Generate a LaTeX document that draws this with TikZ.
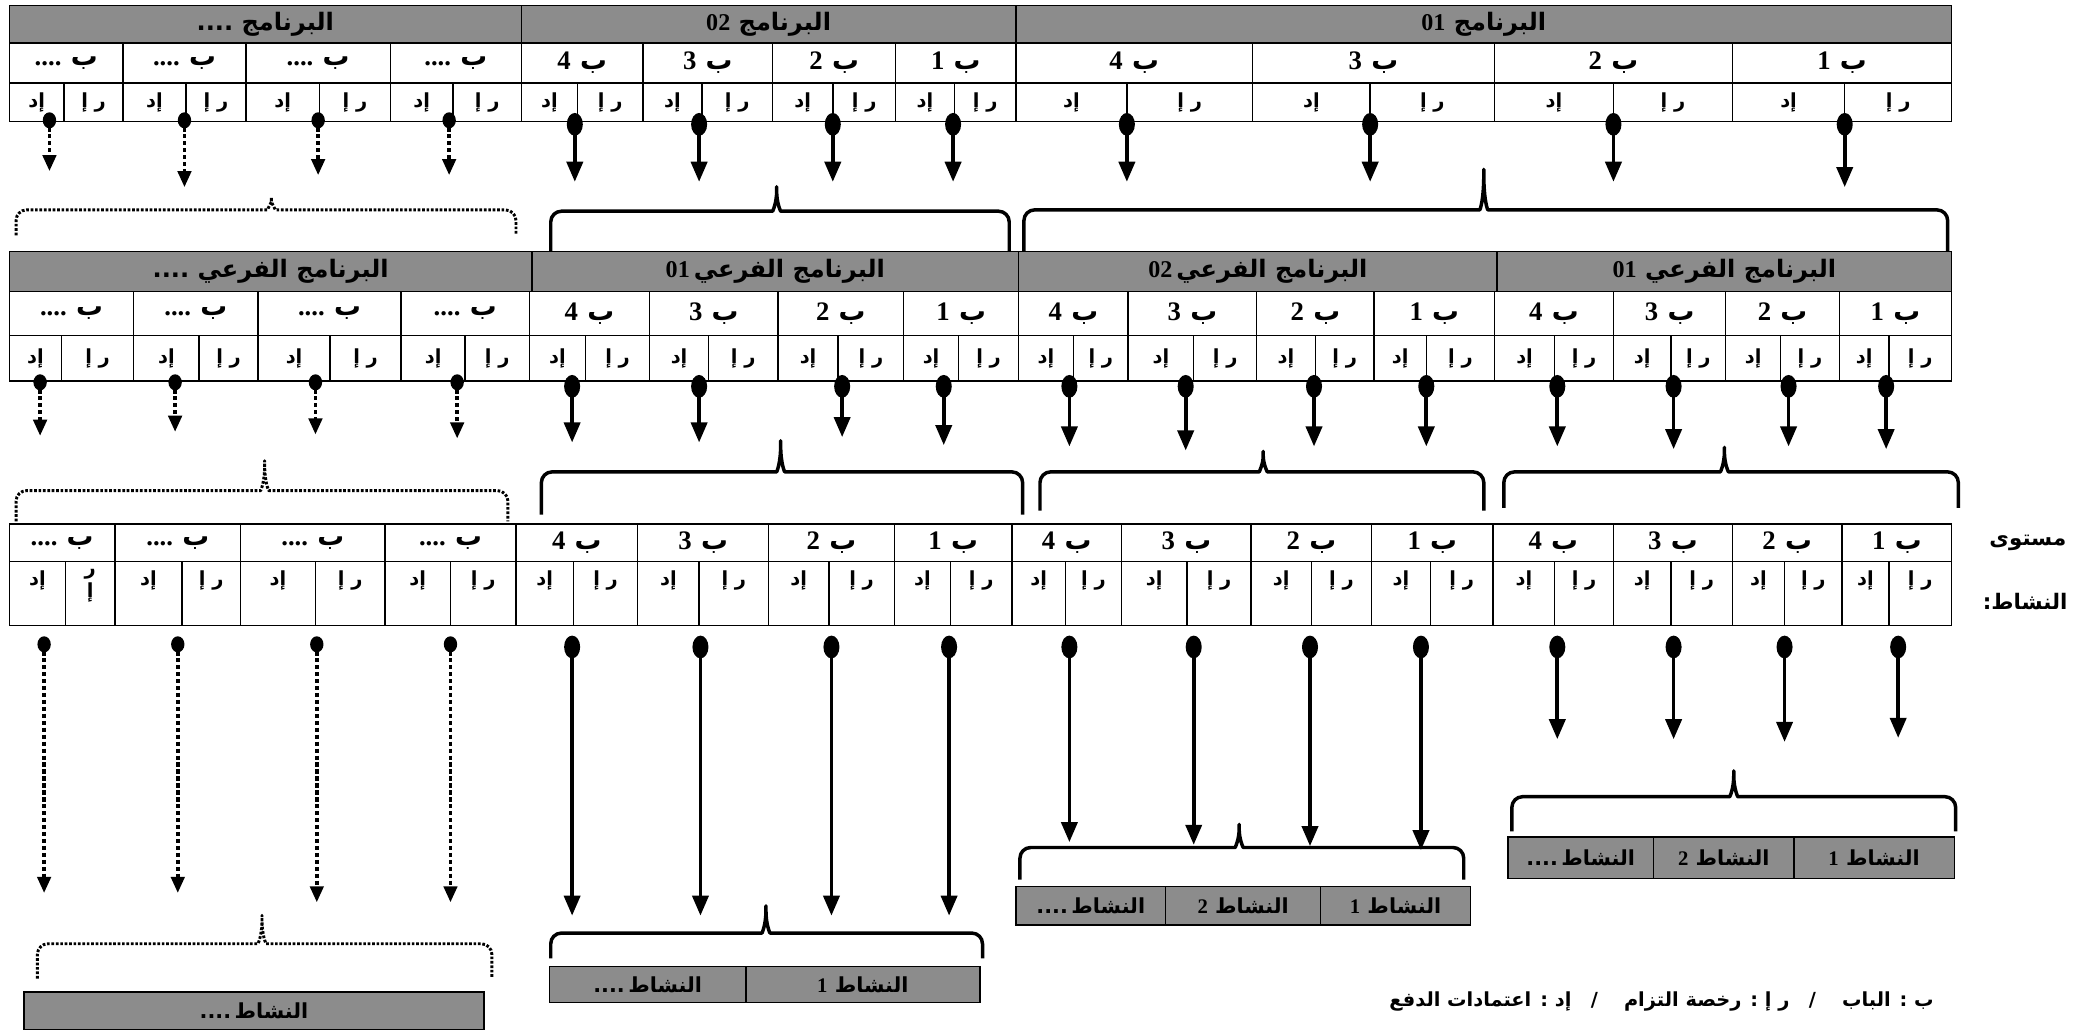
\documentclass[tikz,border=0pt]{standalone}
\usepackage{fontspec}
\newfontfamily\arfont[Script=Arabic]{DejaVu Sans}
\newfontfamily\latfont{Liberation Serif}
\TeXXeTstate=1
\usetikzlibrary{arrows.meta,shapes.geometric}
\newcommand\artxt[1]{{\arfont\bfseries\beginR #1\endR}}
\newcommand\dg[1]{{\latfont\bfseries #1}}
\newcommand\fdots{....}
\newcommand\brk[7][]{\draw[brc,#1] (#2,#5) -- (#2,#4) -- ({#6-11},#4) .. controls ({#6-3},#4) and (#6,{#4-6}) .. (#6,#7) .. controls (#6,{#4-6}) and ({#6+3},#4) .. ({#6+11},#4) -- (#3,#4) -- (#3,#5);}
\tikzset{
 tbl/.style={draw=black,line width=1.1pt,inner sep=0pt,outer sep=0pt,anchor=north west},
 hdr/.style={tbl,fill=black!45,font=\fontsize{18}{20}\selectfont},
 bc/.style={tbl,font=\fontsize{20}{22}\selectfont},
 sc/.style={tbl,font=\fontsize{14.5}{16}\selectfont},
 txt/.style={inner sep=0pt,font=\fontsize{14.5}{16}\selectfont},
 act/.style={tbl,fill=black!45,font=\fontsize{15.5}{17}\selectfont},
 sdot/.style={ellipse,fill=black,draw=none,inner sep=0pt,minimum width=12pt,minimum height=17pt},
 ddot/.style={ellipse,fill=black,draw=none,inner sep=0pt,minimum width=10pt,minimum height=12pt},
 sarr/.style={line width=2.8pt,-{Triangle[length=15pt,width=12pt]}},
 darr/.style={line width=2.6pt,dash pattern=on 3.2pt off 2pt,-{Triangle[length=12pt,width=10pt]}},
 brc/.style={line width=2.6pt,rounded corners=8pt,line join=round},
 dbrc/.style={line width=2.2pt,dash pattern=on 2pt off 1.3pt}
}
\begin{document}
\begin{tikzpicture}[x=1pt,y=-1pt]
\useasboundingbox (0,0) rectangle (1568,771);
\fill[white] (0,0) rectangle (1568,771);

% ---------- braces (drawn first, tables overlay) ----------
\brk[dbrc]{12}{386}{157}{176}{203}{143}
\brk{412}{755}{158}{189}{581}{135}
\brk{766}{1457}{157}{189}{1110}{122}
\brk[dbrc]{12}{380}{367}{390}{198}{340}
\brk{405}{765}{353}{385}{584}{325}
\brk{778}{1110}{353}{382}{945}{333}
\brk{1125}{1465}{353}{380}{1290}{330}
\brk{1131}{1463}{596}{622}{1297}{572}
\brk{763}{1095}{634}{658}{927}{612}
\brk{412}{735}{698}{717}{573}{673}
\brk[dbrc]{28}{368}{706}{732}{196}{680}

% ---------- Row 1 ----------
\node[hdr,minimum width=383pt,minimum height=28pt] (h1-1) at (7,4) {\artxt{البرنامج \fdots}};
\node[hdr,minimum width=370pt,minimum height=28pt] (h1-2) at (390,4) {\artxt{البرنامج \dg{02}}};
\node[hdr,minimum width=700pt,minimum height=28pt] (h1-3) at (760,4) {\artxt{البرنامج \dg{01}}};
\foreach \xa/\xb/\lab [count=\i] in {7/92/\fdots,92/184/\fdots,184/292/\fdots,292/390/\fdots,390/481/4,481/578/3,578/670/2,670/760/1,760/937/4,937/1118/3,1118/1296/2,1296/1460/1}
 \node[bc,minimum width={(\xb-\xa)*1pt},minimum height=30pt] (b1-\i) at (\xa,32) {\artxt{ب \dg{\lab}}};
\foreach \xa/\xm/\xb [count=\i] in {7/48/92,92/139/184,184/239/292,292/339/390,390/432/481,481/525/578,578/623/670,670/714/760,760/843/937,937/1025/1118,1118/1207/1296,1296/1380/1460}{
 \node[sc,minimum width={(\xm-\xa)*1pt},minimum height=29pt] (p1-\i) at (\xa,62) {\artxt{إد}};
 \node[sc,minimum width={(\xb-\xm)*1pt},minimum height=29pt] (r1-\i) at (\xm,62) {\artxt{ر إ}};
}
\foreach \x/\e [count=\i] in {430/136,523/136,623/136,713/136,843/136,1025/136,1207/136,1380/140}{
 \node[sdot] (s1-\i) at (\x,93) {};
 \coordinate (se1-\i) at (\x,\e);
 \draw[sarr] (s1-\i.center) -- (se1-\i);
}
\foreach \x/\e [count=\i] in {37/128,138/140,238/131,336/131}{
 \node[ddot] (q1-\i) at (\x,90) {};
 \coordinate (qe1-\i) at (\x,\e);
 \draw[darr] (q1-\i.center) -- (qe1-\i);
}

% ---------- Row 2 ----------
\node[hdr,minimum width=391pt,minimum height=30pt] (h2-1) at (7,188) {\artxt{البرنامج الفرعي \fdots}};
\node[hdr,minimum width=364pt,minimum height=30pt] (h2-2) at (398,188) {\artxt{البرنامج الفرعي\,\dg{01}}};
\node[hdr,minimum width=358pt,minimum height=30pt] (h2-3) at (762,188) {\artxt{البرنامج الفرعي\,\dg{02}}};
\node[hdr,minimum width=340pt,minimum height=30pt] (h2-4) at (1120,188) {\artxt{البرنامج الفرعي \dg{01}}};
\foreach \xa/\xb/\lab [count=\i] in {7/100/\fdots,100/193/\fdots,193/300/\fdots,300/396/\fdots,396/486/4,486/582/3,582/676/2,676/762/1,762/844/4,844/940/3,940/1028/2,1028/1118/1,1118/1207/4,1207/1291/3,1291/1376/2,1376/1460/1}
 \node[bc,minimum width={(\xb-\xa)*1pt},minimum height=33pt] (b2-\i) at (\xa,218) {\artxt{ب \dg{\lab}}};
\foreach \xa/\xm/\xb [count=\i] in {7/46/100,100/149/193,193/247/300,300/348/396,396/438/486,486/530/582,582/627/676,676/717/762,762/803/844,844/893/940,940/984/1028,1028/1067/1118,1118/1163/1207,1207/1250/1291,1291/1332/1376,1376/1413/1460}{
 \node[sc,minimum width={(\xm-\xa)*1pt},minimum height=34pt] (p2-\i) at (\xa,251) {\artxt{إد}};
 \node[sc,minimum width={(\xb-\xm)*1pt},minimum height=34pt] (r2-\i) at (\xm,251) {\artxt{ر إ}};
}
\foreach \x/\e [count=\i] in {428/331,523/331,630/327,706/333,800/334,887/337,983/334,1067/334,1165/334,1252/336,1338/334,1411/336}{
 \node[sdot] (s2-\i) at (\x,289) {};
 \coordinate (se2-\i) at (\x,\e);
 \draw[sarr] (s2-\i.center) -- (se2-\i);
}
\foreach \x/\e [count=\i] in {30/326,131/323,236/325,342/328}{
 \node[ddot] (q2-\i) at (\x,286) {};
 \coordinate (qe2-\i) at (\x,\e);
 \draw[darr] (q2-\i.center) -- (qe2-\i);
}

% ---------- Row 3 ----------
\foreach \xa/\xb/\lab [count=\i] in {7/86/\fdots,86/180/\fdots,180/288/\fdots,288/386/\fdots,386/477/4,477/575/3,575/669/2,669/757/1,757/839/4,839/936/3,936/1026/2,1026/1117/1,1117/1207/4,1207/1296/3,1296/1378/2,1378/1460/1}
 \node[bc,minimum width={(\xb-\xa)*1pt},minimum height=28pt] (b3-\i) at (\xa,392) {\artxt{ب \dg{\lab}}};
\node[sc,minimum width=42pt,minimum height=48pt] (p3-1) at (7,420) {};
\node[sc,minimum width=37pt,minimum height=48pt] (r3-1) at (49,420) {};
\node[txt,anchor=north] (tp3-1) at ([yshift=-7pt]p3-1.north) {\artxt{إد}};
\node[txt,anchor=north,align=center] (tr3-1) at ([yshift=-6pt]r3-1.north) {\artxt{ر}\\[1pt]\artxt{إ}};
\foreach \xa/\xm/\xb [count=\i from 2] in {86/136/180,180/236/288,288/337/386,386/429/477,477/523/575,575/620/669,669/711/757,757/797/839,839/888/936,936/981/1026,1026/1070/1117,1117/1163/1207,1207/1250/1296,1296/1335/1378,1378/1413/1460}{
 \node[sc,minimum width={(\xm-\xa)*1pt},minimum height=48pt] (p3-\i) at (\xa,420) {};
 \node[sc,minimum width={(\xb-\xm)*1pt},minimum height=48pt] (r3-\i) at (\xm,420) {};
 \node[txt,anchor=north] (tp3-\i) at ([yshift=-7pt]p3-\i.north) {\artxt{إد}};
 \node[txt,anchor=north] (tr3-\i) at ([yshift=-7pt]r3-\i.north) {\artxt{ر إ}};
}
\foreach \x/\e [count=\i] in {428/685,524/685,622/685,710/685,800/630,893/632,980/633,1063/636,1165/553,1252/553,1335/555,1420/552}{
 \node[sdot] (s3-\i) at (\x,484) {};
 \coordinate (se3-\i) at (\x,\e);
 \draw[sarr] (s3-\i.center) -- (se3-\i);
}
\foreach \x/\e [count=\i] in {33/668,133/668,237/675,337/675}{
 \node[ddot] (q3-\i) at (\x,482) {};
 \coordinate (qe3-\i) at (\x,\e);
 \draw[darr] (q3-\i.center) -- (qe3-\i);
}

% ---------- activity boxes ----------
\node[act,minimum width=109pt,minimum height=31pt] (c-1) at (1128,626) {\artxt{النشاط\,\fdots}};
\node[act,minimum width=105pt,minimum height=31pt] (c-2) at (1237,626) {\artxt{النشاط \dg{2}}};
\node[act,minimum width=120pt,minimum height=31pt] (c-3) at (1342,626) {\artxt{النشاط \dg{1}}};
\node[act,minimum width=112pt,minimum height=29pt] (bb-1) at (760,663) {\artxt{النشاط\,\fdots}};
\node[act,minimum width=116pt,minimum height=29pt] (bb-2) at (872,663) {\artxt{النشاط \dg{2}}};
\node[act,minimum width=112pt,minimum height=29pt] (bb-3) at (988,663) {\artxt{النشاط \dg{1}}};
\node[act,minimum width=147pt,minimum height=27pt] (aa-1) at (411,723) {\artxt{النشاط\,\fdots}};
\node[act,minimum width=175pt,minimum height=27pt] (aa-2) at (558,723) {\artxt{النشاط \dg{1}}};
\node[act,minimum width=344pt,minimum height=28pt] (dd-1) at (18,742) {\artxt{النشاط\,\fdots}};

% ---------- side labels and legend ----------
\node[inner sep=0pt,font=\fontsize{16}{18}\selectfont] (lv-1) at (1517,406) {\artxt{مستوى}};
\node[inner sep=0pt,font=\fontsize{16}{18}\selectfont] (lv-2) at (1515,450) {\artxt{النشاط\kern0pt:}};
\node[inner sep=0pt,font=\fontsize{14.5}{16}\selectfont] (leg) at (1243,749) {\artxt{ب : الباب \quad/\quad ر إ : رخصة التزام \quad/\quad إد : اعتمادات الدفع}};
\end{tikzpicture}
\end{document}
